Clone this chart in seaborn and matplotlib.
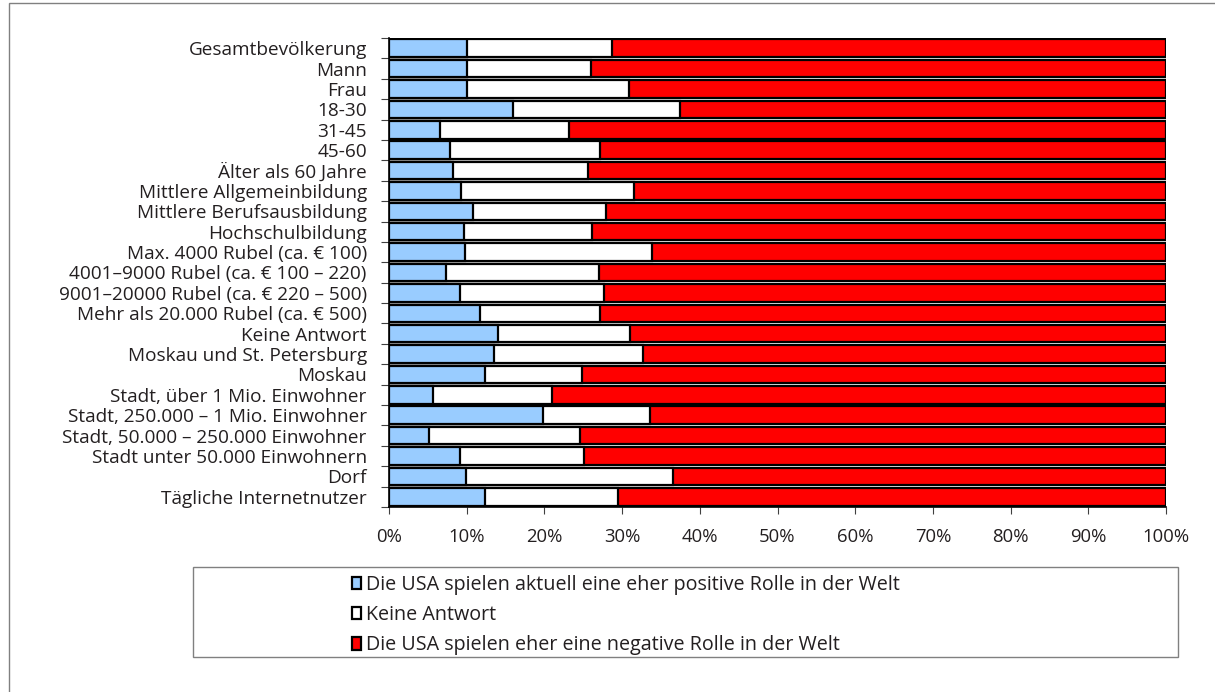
import matplotlib
matplotlib.use("Agg")
import matplotlib.pyplot as plt
import matplotlib.patches as mpatches
import numpy as np
import pandas as pd
import seaborn as sns

categories = [
    "Gesamtbevölkerung", "Mann", "Frau", "18-30", "31-45", "45-60",
    "Älter als 60 Jahre", "Mittlere Allgemeinbildung", "Mittlere Berufsausbildung",
    "Hochschulbildung", "Max. 4000 Rubel (ca. € 100)",
    "4001–9000 Rubel (ca. € 100 – 220)", "9001–20000 Rubel (ca. € 220 – 500)",
    "Mehr als 20.000 Rubel (ca. € 500)", "Keine Antwort",
    "Moskau und St. Petersburg", "Moskau", "Stadt, über 1 Mio. Einwohner",
    "Stadt, 250.000 – 1 Mio. Einwohner", "Stadt, 50.000 – 250.000 Einwohner",
    "Stadt unter 50.000 Einwohnern", "Dorf", "Tägliche Internetnutzer",
]
positive = [10.0, 10.0, 10.0, 16.0, 6.6, 7.9, 8.3, 9.3, 10.8, 9.7, 9.8, 7.3,
            9.1, 11.7, 14.0, 13.5, 12.3, 5.7, 19.8, 5.2, 9.2, 9.9, 12.4]
no_answer = [18.7, 16.0, 20.9, 21.4, 16.6, 19.3, 17.3, 22.2, 17.1, 16.4, 24.0, 19.7,
             18.6, 15.4, 17.0, 19.2, 12.5, 15.3, 13.8, 19.4, 15.9, 26.7, 17.1]
negative = [round(100 - p - n, 1) for p, n in zip(positive, no_answer)]

series_labels = [
    "Die USA spielen aktuell eine eher positive Rolle in der Welt",
    "Keine Antwort",
    "Die USA spielen eher eine negative Rolle in der Welt",
]
colors = ["#99CCFF", "#FFFFFF", "#FF0000"]

sns.set_theme(style="white")
plt.rcParams["font.family"] = ["Open Sans", "DejaVu Sans"]
text_color = "#231F20"

df = pd.DataFrame({
    "cat": categories,
    "p": positive,
    "n": no_answer,
    "neg": negative,
})
df["c1"] = df["p"]
df["c2"] = df["p"] + df["n"]
df["c3"] = df["p"] + df["n"] + df["neg"]

fig = plt.figure(figsize=(12.15, 6.92), dpi=100)
ax = fig.add_axes([389 / 1215, 1 - 507 / 692, (1166 - 389) / 1215, (507 - 38) / 692])

for col, color in zip(["c3", "c2", "c1"], colors[::-1]):
    sns.barplot(data=df, x=col, y="cat", orient="h", color=color, saturation=1,
                width=0.86, edgecolor="black", linewidth=1.6, ax=ax)

ax.set_xlim(0, 100)
ax.set_ylim(len(categories) - 0.5, -0.5)
ax.set_xlabel("")
ax.set_ylabel("")
ax.set_xticks(np.arange(0, 101, 10))
ax.set_xticklabels([f"{v}%" for v in range(0, 101, 10)])
ax.tick_params(axis="x", length=5, width=0.8, color="#404040", pad=10,
               labelsize=13.3, labelcolor=text_color, bottom=True)
ax.tick_params(axis="y", which="major", length=0, pad=16,
               labelsize=13.7, labelcolor=text_color)
ax.set_yticks(np.arange(-0.5, len(categories), 1), minor=True)
ax.tick_params(axis="y", which="minor", length=6, width=0.8, color="#404040", left=True)
for s in ["top", "right"]:
    ax.spines[s].set_visible(False)
for s in ["left", "bottom"]:
    ax.spines[s].set_color("black")
    ax.spines[s].set_linewidth(1.2)

# outer frame
fig.patches.append(mpatches.Rectangle((8.5 / 1215, -0.1), 1.2, 1 - 2.5 / 692 + 0.1,
                                      transform=fig.transFigure, fill=False,
                                      edgecolor="#808080", linewidth=1.0))
# legend frame
fig.patches.append(mpatches.Rectangle((193 / 1215, 1 - 657 / 692), (1178 - 193) / 1215,
                                      (657 - 567) / 692, transform=fig.transFigure,
                                      fill=False, edgecolor="#808080", linewidth=1.0))

handles = [mpatches.Patch(facecolor=c, edgecolor="black", linewidth=1.6, label=l)
           for c, l in zip(colors, series_labels)]
leg = fig.legend(handles=handles, loc="upper left",
                 bbox_to_anchor=(334 / 1215, 1 - 557 / 692), frameon=False,
                 fontsize=14.2, handlelength=0.45, handleheight=0.6,
                 handletextpad=0.25, labelspacing=0.52, borderpad=0.4)
for t in leg.get_texts():
    t.set_color(text_color)

fig.savefig("out.png", dpi=100, facecolor="white")
